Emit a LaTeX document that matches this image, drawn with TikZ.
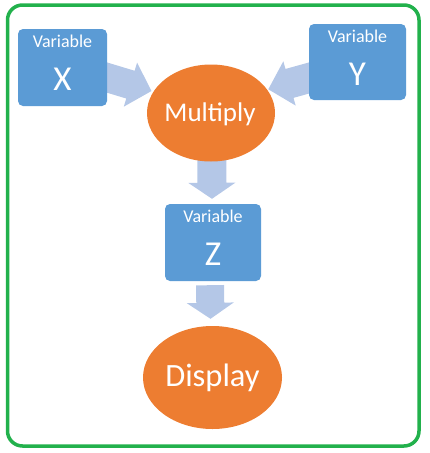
\documentclass[tikz,border=0pt]{standalone}
\usepackage{fontspec}
\setmainfont{Carlito}
\usetikzlibrary{calc,shapes.geometric,backgrounds}
\definecolor{boxblue}{HTML}{5B9BD5}
\definecolor{ovalorange}{HTML}{ED7D31}
\definecolor{arrowblue}{HTML}{B4C7E7}
\definecolor{framegreen}{HTML}{22B14C}
\newcommand\blockarr[5]{%
  \coordinate (ba-h) at ($(#2)!#5!(#1)$);
  \fill[arrowblue] ($(#1)!#3!90:(#2)$) -- ($(ba-h)!#3!90:(#2)$) -- ($(ba-h)!#4!90:(#2)$) -- (#2)
    -- ($(ba-h)!#4!-90:(#2)$) -- ($(ba-h)!#3!-90:(#2)$) -- ($(#1)!#3!-90:(#2)$) -- cycle;}
\tikzset{
  vbox/.style={draw=none, fill=boxblue, rounded corners=5pt, inner sep=0pt},
  oval/.style={ellipse, draw=none, fill=ovalorange, inner sep=0pt},
  frame/.style={draw=framegreen, line width=3.5pt, rounded corners=15pt, inner sep=0pt},
  small/.style={text=white, inner sep=0pt, anchor=base, font=\fontsize{18}{21}\selectfont},
  big/.style={text=white, inner sep=0pt, anchor=base, font=\fontsize{35}{41}\selectfont},
  ovaltext/.style={text=white, inner sep=0pt, anchor=base},
}
\begin{document}
\begin{tikzpicture}[x=1pt, y=-1pt]
\useasboundingbox (0,0) rectangle (429,453);
\node[frame, minimum width=411.5pt, minimum height=441pt] (frm) at (213.25,225.5) {};
% boxes
\node[vbox, minimum width=89pt, minimum height=77pt] (x) at (62.5,67.5) {};
\node[vbox, minimum width=97pt, minimum height=76pt] (y) at (357.5,62) {};
\node[vbox, minimum width=96pt, minimum height=77pt] (z) at (213,242.5) {};
\node[oval, minimum width=128pt, minimum height=97pt] (mul) at (211,113) {};
\node[oval, minimum width=139pt, minimum height=103pt] (disp) at (212.5,377.5) {};
% texts
\node[small] (xv) at ($(x.north)+(0,19)$) {Variable};
\node[big] (xl) at ($(x.north)+(0,61.7)$) {X};
\node[small] (yv) at ($(y.north)+(0,19)$) {Variable};
\node[big] (yl) at ($(y.north)+(0,62)$) {Y};
\node[small] (zv) at ($(z.north)+(0,18.7)$) {Variable};
\node[big] (zl) at ($(z.north)+(0,62)$) {Z};
\node[ovaltext, font=\fontsize{27}{31}\selectfont] (mult) at ($(mul.center)+(-1,8.7)$) {Multiply};
\node[ovaltext, font=\fontsize{32.5}{38}\selectfont] (dispt) at ($(disp.center)+(0,9.2)$) {Display};
% block arrows
\coordinate (a1s) at ($(x.east)+(-12,6.5)$);
\coordinate (a1t) at ($(mul.center)+(-59.5,-22)$);
\coordinate (a2s) at ($(y.west)+(12,12.7)$);
\coordinate (a2t) at ($(mul.center)+(57.3,-23.7)$);
\coordinate (a3s) at ($(mul.center)+(0.5,0)$);
\coordinate (a3t) at ($(z.north)+(-1,-5)$);
\coordinate (a4s) at ($(z.south)+(-3,4)$);
\coordinate (a4t) at ($(disp.north)+(-2,-7)$);
\begin{pgfonlayer}{background}
\blockarr{a1s}{a1t}{14.5pt}{23pt}{22pt}
\blockarr{a2s}{a2t}{15pt}{23pt}{22pt}
\blockarr{a3s}{a3t}{14.5pt}{23.5pt}{16pt}
\blockarr{a4s}{a4t}{14pt}{23.5pt}{16pt}
\end{pgfonlayer}
\end{tikzpicture}
\end{document}
